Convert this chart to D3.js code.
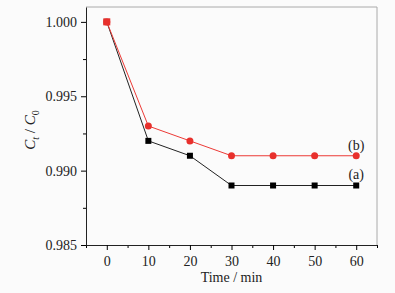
<!DOCTYPE html>
<html>
<head>
<meta charset="utf-8">
<script src="https://cdn.jsdelivr.net/npm/d3@7"></script>
<style>
  body { margin: 0; background: #fbfbfb; }
  svg { display: block; }
  svg text { font-family: "Liberation Serif", "Times New Roman", Times, "DejaVu Serif", serif !important; }
</style>
</head>
<body>
<svg id="chart"></svg>
<script>
// data
let times = [0, 10, 20, 30, 40, 50, 60];
let seriesA = [1.000, 0.992, 0.991, 0.989, 0.989, 0.989, 0.989];
let seriesB = [1.000, 0.993, 0.992, 0.991, 0.991, 0.991, 0.991];
let xTicks = [0, 10, 20, 30, 40, 50, 60];
let yTicks = [0.985, 0.990, 0.995, 1.000];

function drawChart() {
    let w = 395, h = 293;
    let left = 86, right = 377, top = 7, bottom = 245;
    let font = '"Liberation Serif", "Times New Roman", serif';

    let svg = d3.select("#chart")
        .attr('width', w)
        .attr('height', h);

    let x = d3.scaleLinear().domain([-5, 65]).range([left, right]);
    let y = d3.scaleLinear().domain([0.985, 1.001]).range([bottom, top]);

    // frame
    svg.append('line').attr('x1', left).attr('x2', right).attr('y1', top).attr('y2', top)
        .attr('stroke', '#aaa');
    svg.append('line').attr('x1', right).attr('x2', right).attr('y1', top).attr('y2', bottom)
        .attr('stroke', '#aaa');

    // x axis, major + minor ticks
    let xMinor = d3.range(-5, 66, 5).filter(v => v % 10 !== 0);
    svg.append('g').attr('transform', `translate(0,${bottom})`)
        .call(d3.axisBottom(x).tickValues(xMinor).tickSize(3).tickFormat(''))
        .call(g => g.select('.domain').remove());
    let gx = svg.append('g').attr('transform', `translate(0,${bottom})`)
        .call(d3.axisBottom(x).tickValues(xTicks).tickSize(5).tickSizeOuter(0).tickPadding(6));
    gx.attr('font-family', font).attr('font-size', 14);
    gx.select('.domain').attr('stroke', '#222');
    gx.selectAll('text').attr('fill', '#222');

    // y axis
    let yMinor = [0.9875, 0.9925, 0.9975];
    svg.append('g').attr('transform', `translate(${left},0)`)
        .call(d3.axisLeft(y).tickValues(yMinor).tickSize(3).tickFormat(''))
        .call(g => g.select('.domain').remove());
    let gy = svg.append('g').attr('transform', `translate(${left},0)`)
        .call(d3.axisLeft(y).tickValues(yTicks).tickSize(5).tickSizeOuter(0).tickPadding(4)
            .tickFormat(d3.format('.3f')));
    gy.attr('font-family', font).attr('font-size', 14);
    gy.select('.domain').attr('stroke', '#222');
    gy.selectAll('text').attr('fill', '#222');

    // axis titles
    svg.append('text').attr('x', (x(0) + x(60)) / 2).attr('y', 282)
        .attr('text-anchor', 'middle').attr('font-size', 14).attr('fill', '#222')
        .text('Time / min');

    let yl = svg.append('text')
        .attr('transform', `translate(35,130) rotate(-90)`)
        .attr('text-anchor', 'middle').attr('font-size', 15).attr('fill', '#222')
        .attr('font-style', 'italic');
    yl.append('tspan').text('C');
    yl.append('tspan').attr('font-size', 10).attr('dy', 4).text('t');
    yl.append('tspan').attr('dy', -4).attr('font-style', 'normal').text(' / ');
    yl.append('tspan').text('C');
    yl.append('tspan').attr('font-size', 10).attr('dy', 4).attr('font-style', 'normal').text('0');

    let line = d3.line().x((d, i) => x(times[i])).y(d => y(d));

    // series (a): black squares
    svg.append('path').datum(seriesA).attr('d', line)
        .attr('fill', 'none').attr('stroke', '#222').attr('stroke-width', 1);
    // series (b): red circles
    svg.append('path').datum(seriesB).attr('d', line)
        .attr('fill', 'none').attr('stroke', '#ec3a36').attr('stroke-width', 1);

    svg.selectAll('rect.ma').data(seriesA).enter().append('rect')
        .attr('class', 'ma')
        .attr('x', (d, i) => x(times[i]) - 3)
        .attr('y', d => y(d) - 3)
        .attr('width', 6).attr('height', 6)
        .attr('fill', '#000');

    svg.selectAll('circle.mb').data(seriesB).enter().append('circle')
        .attr('class', 'mb')
        .attr('cx', (d, i) => x(times[i]))
        .attr('cy', d => y(d))
        .attr('r', 3.5)
        .attr('fill', '#e8302c');

    // first point is a red square in the picture
    svg.append('rect')
        .attr('x', x(times[0]) - 3.5).attr('y', y(seriesB[0]) - 3.5)
        .attr('width', 7).attr('height', 7).attr('fill', '#e8302c');

    // series labels
    svg.append('text').attr('x', x(60)).attr('y', y(seriesB[6]) - 6)
        .attr('text-anchor', 'middle').attr('font-size', 14).attr('fill', '#222').text('(b)');
    svg.append('text').attr('x', x(60)).attr('y', y(seriesA[6]) - 7)
        .attr('text-anchor', 'middle').attr('font-size', 14).attr('fill', '#222').text('(a)');
}

window.onload = function() {
    drawChart();
}
</script>
</body>
</html>
